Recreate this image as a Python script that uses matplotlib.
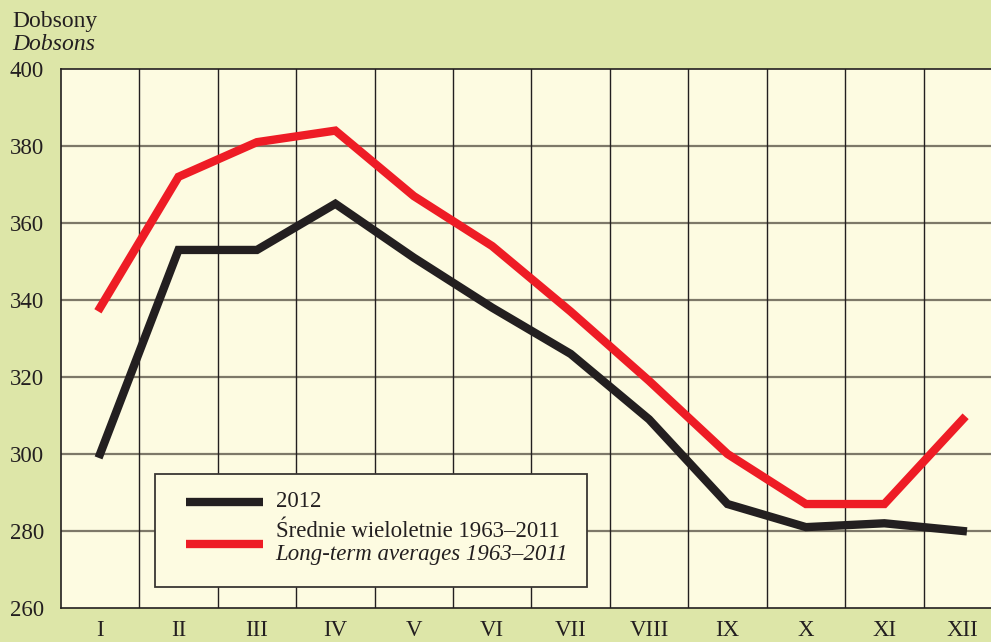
import matplotlib.pyplot as plt
from matplotlib.patches import Rectangle
import numpy as np

plt.rcParams['font.family'] = ['Liberation Serif', 'DejaVu Serif']

months = ['I', 'II', 'III', 'IV', 'V', 'VI', 'VII', 'VIII', 'IX', 'X', 'XI', 'XII']
ozone_2012 = [300, 353, 353, 365, 351, 338, 326, 309, 287, 281, 282, 280]
ozone_avg = [338, 372, 381, 384, 367, 354, 337, 319, 300, 287, 287, 309]
yticks = [260, 280, 300, 320, 340, 360, 380, 400]

bg = '#dde6a8'
panel = '#fdfbe1'
red = '#ee1c25'
black = '#231f20'

fig = plt.figure(figsize=(9.91, 6.42), dpi=100, facecolor=bg)
ax = fig.add_axes([0.0614, 0.053, 1.0111 - 0.0614, 0.8925 - 0.053])
ax.set_facecolor(panel)

x = np.arange(1, 13)
ax.set_xlim(0.5, 12.5)
ax.set_ylim(260, 400)

# grid: gray horizontals, thin black verticals between months
for y in yticks[1:-1]:
    ax.axhline(y, color='#7d7868', lw=1.6, zorder=1)
for xv in np.arange(1.5, 12.5, 1):
    ax.axvline(xv, color='#231f20', lw=1.0, zorder=1)

ax.plot(x, ozone_avg, color=red, lw=6.0, solid_joinstyle='miter', zorder=3)
ax.plot(x, ozone_2012, color=black, lw=6.0, solid_joinstyle='miter', zorder=3)

for side in ['left', 'bottom', 'top']:
    ax.spines[side].set_color(black)
    ax.spines[side].set_linewidth(1.2)
ax.spines['right'].set_visible(False)

ax.set_xticks(x)
ax.set_xticklabels(months, fontsize=16.5, color=black)
ax.set_yticks(yticks)
ax.set_yticklabels([str(v) for v in yticks], fontsize=16.5, color=black)
ax.tick_params(length=0)
ax.tick_params(axis='x', pad=9)
ax.tick_params(axis='y', pad=12)

fig.text(12 / 991, 1 - 22 / 642, 'Dobsony', fontsize=17, color=black, va='center')
fig.text(12 / 991, 1 - 45 / 642, 'Dobsons', fontsize=17, color=black, va='center', style='italic')

# legend box
ax.add_patch(Rectangle((1.70, 265.5), 7.21 - 1.70, 294.8 - 265.5,
                       facecolor=panel, edgecolor='#3a3632', lw=1.3, zorder=4))
ax.plot([2.10, 3.08], [287.6, 287.6], color=black, lw=6.0, solid_capstyle='butt', zorder=5)
ax.plot([2.10, 3.08], [276.6, 276.6], color=red, lw=6.0, solid_capstyle='butt', zorder=5)
ax.text(3.24, 287.6, '2012', fontsize=16.5, color=black, va='center', zorder=5)
ax.text(3.24, 279.8, 'Średnie wieloletnie 1963–2011', fontsize=16.5, color=black, va='center', zorder=5)
ax.text(3.24, 274.0, 'Long-term averages 1963–2011', fontsize=16.5, color=black, va='center',
        style='italic', zorder=5)

fig.savefig('out.png', dpi=100, facecolor=bg)
